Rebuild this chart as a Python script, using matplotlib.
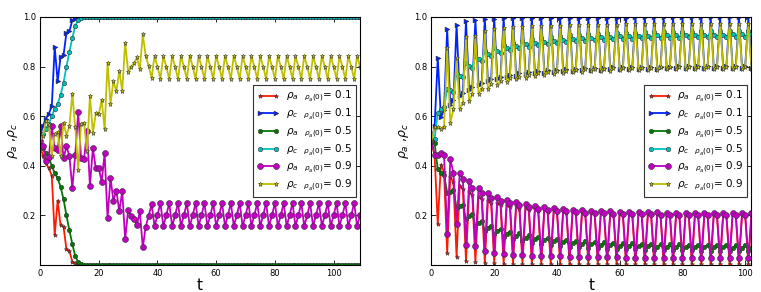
import matplotlib
matplotlib.use('Agg')
import matplotlib.pyplot as plt

# ---- left panel, t = 0..109 ----
t_left = list(range(110))

rho_a_01_l = [0.48, 0.44, 0.41, 0.39, 0.36, 0.12, 0.26, 0.16, 0.155, 0.063,
              0.058, 0.013, 0.007, 0.002] + [0.0] * 96
rho_c_01_l = [0.52, 0.56, 0.59, 0.61, 0.64, 0.88, 0.74, 0.84, 0.845, 0.937,
              0.942, 0.987, 0.993, 0.998] + [1.0] * 96
rho_a_05_l = [0.5, 0.47, 0.45, 0.43, 0.40, 0.37, 0.35, 0.315, 0.265, 0.2,
              0.14, 0.085, 0.035, 0.012, 0.003] + [0.0] * 95
rho_c_05_l = [0.5, 0.53, 0.55, 0.57, 0.60, 0.63, 0.65, 0.685, 0.735, 0.80,
              0.86, 0.915, 0.965, 0.988, 0.997] + [1.0] * 95
rho_a_09_l = [0.50, 0.48, 0.42, 0.435, 0.56, 0.47, 0.465, 0.56, 0.43, 0.478,
              0.44, 0.31, 0.445, 0.615, 0.43, 0.427, 0.54, 0.32, 0.47, 0.39,
              0.39, 0.336, 0.45, 0.188, 0.35, 0.26, 0.30, 0.216, 0.297, 0.104,
              0.22, 0.196, 0.187, 0.16, 0.216, 0.071, 0.155, 0.198, 0.245,
              0.157, 0.2, 0.25, 0.157, 0.2, 0.25, 0.157, 0.2, 0.25,
              0.157, 0.2, 0.25, 0.157, 0.2, 0.25, 0.157, 0.2, 0.25,
              0.157, 0.2, 0.25, 0.157, 0.2, 0.25, 0.157, 0.2, 0.25,
              0.157, 0.2, 0.25, 0.157, 0.2, 0.25, 0.157, 0.2, 0.25,
              0.157, 0.2, 0.25, 0.157, 0.2, 0.25, 0.157, 0.2, 0.25,
              0.157, 0.2, 0.25, 0.157, 0.2, 0.25, 0.157, 0.2, 0.25,
              0.157, 0.2, 0.25, 0.157, 0.2, 0.25, 0.157, 0.2, 0.25,
              0.157, 0.2, 0.25, 0.157, 0.2, 0.25, 0.157, 0.2]
rho_c_09_l = [0.50, 0.52, 0.58, 0.565, 0.44, 0.53, 0.535, 0.44, 0.574, 0.522,
              0.56, 0.69, 0.555, 0.385, 0.57, 0.573, 0.46, 0.683, 0.533, 0.611,
              0.607, 0.665, 0.547, 0.816, 0.65, 0.742, 0.70, 0.782, 0.703, 0.897,
              0.78, 0.80, 0.813, 0.837, 0.789, 0.93, 0.843, 0.802, 0.755,
              0.843, 0.8, 0.75, 0.843, 0.8, 0.75, 0.843, 0.8, 0.75,
              0.843, 0.8, 0.75, 0.843, 0.8, 0.75, 0.843, 0.8, 0.75,
              0.843, 0.8, 0.75, 0.843, 0.8, 0.75, 0.843, 0.8, 0.75,
              0.843, 0.8, 0.75, 0.843, 0.8, 0.75, 0.843, 0.8, 0.75,
              0.843, 0.8, 0.75, 0.843, 0.8, 0.75, 0.843, 0.8, 0.75,
              0.843, 0.8, 0.75, 0.843, 0.8, 0.75, 0.843, 0.8, 0.75,
              0.843, 0.8, 0.75, 0.843, 0.8, 0.75, 0.843, 0.8, 0.75,
              0.843, 0.8, 0.75, 0.843, 0.8, 0.75, 0.843, 0.8]

# ---- right panel, t = 0..102 ----
t_right = list(range(103))

rho_a_01_r = [0.5, 0.44, 0.164,
              0.405, 0.375, 0.048, 0.355, 0.335, 0.032, 0.32, 0.305, 0.017,
              0.295, 0.282, 0.012, 0.275, 0.265, 0.009, 0.26, 0.25, 0.007,
              0.25, 0.24, 0.006, 0.242, 0.232, 0.005, 0.236, 0.226, 0.005,
              0.231, 0.221, 0.004, 0.227, 0.218, 0.004, 0.224, 0.215, 0.004,
              0.221, 0.212, 0.003, 0.219, 0.21, 0.003, 0.217, 0.208, 0.003,
              0.215, 0.206, 0.003, 0.213, 0.205, 0.003, 0.212, 0.204, 0.003,
              0.211, 0.203, 0.003, 0.21, 0.202, 0.003, 0.209, 0.201, 0.002,
              0.209, 0.201, 0.002, 0.208, 0.2, 0.002, 0.208, 0.2, 0.002,
              0.207, 0.2, 0.002, 0.207, 0.199, 0.002, 0.207, 0.199, 0.002,
              0.206, 0.199, 0.002, 0.206, 0.199, 0.002, 0.206, 0.198, 0.002,
              0.206, 0.198, 0.002, 0.205, 0.198, 0.002, 0.205, 0.198, 0.002,
              0.205]
rho_c_01_r = [0.5, 0.56, 0.836,
              0.595, 0.625, 0.952, 0.645, 0.665, 0.968, 0.68, 0.695, 0.983,
              0.705, 0.718, 0.988, 0.725, 0.735, 0.991, 0.74, 0.75, 0.993,
              0.75, 0.76, 0.994, 0.758, 0.768, 0.995, 0.764, 0.774, 0.995,
              0.769, 0.779, 0.996, 0.773, 0.782, 0.996, 0.776, 0.785, 0.996,
              0.779, 0.788, 0.997, 0.781, 0.79, 0.997, 0.783, 0.792, 0.997,
              0.785, 0.794, 0.997, 0.787, 0.795, 0.997, 0.788, 0.796, 0.997,
              0.789, 0.797, 0.997, 0.79, 0.798, 0.997, 0.791, 0.799, 0.998,
              0.791, 0.799, 0.998, 0.792, 0.8, 0.998, 0.792, 0.8, 0.998,
              0.793, 0.8, 0.998, 0.793, 0.801, 0.998, 0.793, 0.801, 0.998,
              0.794, 0.801, 0.998, 0.794, 0.801, 0.998, 0.794, 0.802, 0.998,
              0.794, 0.802, 0.998, 0.795, 0.802, 0.998, 0.795, 0.802, 0.998,
              0.795]
rho_a_05_r = [0.5, 0.49,
              0.386, 0.372, 0.362, 0.292, 0.296, 0.302, 0.229, 0.238, 0.242,
              0.184, 0.196, 0.204, 0.158, 0.17, 0.178, 0.139, 0.151, 0.159,
              0.124, 0.137, 0.146, 0.112, 0.126, 0.135, 0.103, 0.117, 0.127,
              0.096, 0.11, 0.12, 0.09, 0.104, 0.114, 0.085, 0.099, 0.109,
              0.081, 0.095, 0.105, 0.077, 0.091, 0.101, 0.074, 0.088, 0.098,
              0.072, 0.085, 0.095, 0.07, 0.083, 0.093, 0.068, 0.081, 0.091,
              0.066, 0.079, 0.089, 0.065, 0.078, 0.088, 0.064, 0.077, 0.087,
              0.063, 0.076, 0.086, 0.062, 0.075, 0.085, 0.061, 0.074, 0.084,
              0.06, 0.073, 0.083, 0.06, 0.073, 0.083, 0.059, 0.072, 0.082,
              0.059, 0.072, 0.082, 0.058, 0.071, 0.081, 0.058, 0.071, 0.081,
              0.058, 0.071, 0.081, 0.057, 0.07, 0.08, 0.057, 0.07, 0.08,
              0.057, 0.07]
rho_c_05_r = [0.5, 0.51,
              0.614, 0.628, 0.638, 0.708, 0.704, 0.698, 0.771, 0.762, 0.758,
              0.816, 0.804, 0.796, 0.842, 0.83, 0.822, 0.861, 0.849, 0.841,
              0.876, 0.863, 0.854, 0.888, 0.874, 0.865, 0.897, 0.883, 0.873,
              0.904, 0.89, 0.88, 0.91, 0.896, 0.886, 0.915, 0.901, 0.891,
              0.919, 0.905, 0.895, 0.923, 0.909, 0.899, 0.926, 0.912, 0.902,
              0.928, 0.915, 0.905, 0.93, 0.917, 0.907, 0.932, 0.919, 0.909,
              0.934, 0.921, 0.911, 0.935, 0.922, 0.912, 0.936, 0.923, 0.913,
              0.937, 0.924, 0.914, 0.938, 0.925, 0.915, 0.939, 0.926, 0.916,
              0.94, 0.927, 0.917, 0.94, 0.927, 0.917, 0.941, 0.928, 0.918,
              0.941, 0.928, 0.918, 0.942, 0.929, 0.919, 0.942, 0.929, 0.919,
              0.942, 0.929, 0.919, 0.943, 0.93, 0.92, 0.943, 0.93, 0.92,
              0.943, 0.93]
rho_a_09_r = [0.5, 0.445, 0.445,
              0.45, 0.445, 0.125, 0.426, 0.372, 0.164, 0.372, 0.345, 0.08,
              0.34, 0.31, 0.077, 0.31, 0.289, 0.058, 0.289, 0.269, 0.05,
              0.275, 0.258, 0.045, 0.262, 0.248, 0.042, 0.252, 0.24, 0.04,
              0.245, 0.233, 0.038, 0.238, 0.227, 0.037, 0.233, 0.222, 0.036,
              0.229, 0.219, 0.035, 0.226, 0.216, 0.034, 0.223, 0.213, 0.033,
              0.221, 0.211, 0.032, 0.219, 0.209, 0.032, 0.217, 0.208, 0.031,
              0.216, 0.207, 0.031, 0.215, 0.206, 0.03, 0.214, 0.205, 0.03,
              0.213, 0.204, 0.03, 0.212, 0.204, 0.03, 0.212, 0.203, 0.03,
              0.211, 0.203, 0.03, 0.211, 0.202, 0.03, 0.21, 0.202, 0.03,
              0.21, 0.202, 0.03, 0.21, 0.201, 0.03, 0.209, 0.201, 0.029,
              0.209, 0.201, 0.029, 0.209, 0.2, 0.029, 0.208, 0.2, 0.029,
              0.208]
rho_c_09_r = [0.5, 0.555, 0.555,
              0.55, 0.555, 0.875, 0.574, 0.628, 0.836, 0.628, 0.655, 0.92,
              0.66, 0.69, 0.923, 0.69, 0.711, 0.942, 0.711, 0.731, 0.95,
              0.725, 0.742, 0.955, 0.738, 0.752, 0.958, 0.748, 0.76, 0.96,
              0.755, 0.767, 0.962, 0.762, 0.773, 0.963, 0.767, 0.778, 0.964,
              0.771, 0.781, 0.965, 0.774, 0.784, 0.966, 0.777, 0.787, 0.967,
              0.779, 0.789, 0.968, 0.781, 0.791, 0.968, 0.783, 0.792, 0.969,
              0.784, 0.793, 0.969, 0.785, 0.794, 0.97, 0.786, 0.795, 0.97,
              0.787, 0.796, 0.97, 0.788, 0.796, 0.97, 0.788, 0.797, 0.97,
              0.789, 0.797, 0.97, 0.789, 0.798, 0.97, 0.79, 0.798, 0.97,
              0.79, 0.798, 0.97, 0.79, 0.799, 0.97, 0.791, 0.799, 0.971,
              0.791, 0.799, 0.971, 0.791, 0.8, 0.971, 0.792, 0.8, 0.971,
              0.792]

labels = [r'$\rho_a\ \ {}_{\rho_a(0)}$= 0.1', r'$\rho_c\ \ {}_{\rho_a(0)}$= 0.1',
          r'$\rho_a\ \ {}_{\rho_a(0)}$= 0.5', r'$\rho_c\ \ {}_{\rho_a(0)}$= 0.5',
          r'$\rho_a\ \ {}_{\rho_a(0)}$= 0.9', r'$\rho_c\ \ {}_{\rho_a(0)}$= 0.9']
colors = ['#ff1a00', '#0022ff', '#007a00', '#00bfbf', '#bf00bf', '#bfbf00']
markers = ['*', '>', 'o', 'o', 'o', '*']
msizes = [3.2, 3.5, 3.2, 3.2, 4.3, 3.6]


def draw_panel(ax, t, series, xmax):
    for i, y in enumerate(series):
        ax.plot(t, y, color=colors[i], marker=markers[i], ms=msizes[i],
                mec='#333333', mew=0.4, lw=1.3, label=labels[i])
    ax.set_xlim(0, xmax)
    ax.set_ylim(0, 1)
    ax.set_xticks([0, 20, 40, 60, 80, 100])
    ax.set_yticks([0.2, 0.4, 0.6, 0.8, 1.0])
    ax.tick_params(direction='in', top=True, right=True, length=3.5,
                   width=0.6, labelsize=6, pad=3)
    for s in ax.spines.values():
        s.set_linewidth(0.8)
    ax.set_xlabel('t', fontsize=11, labelpad=0)
    ax.set_ylabel(r'$\rho_a$ ,$\rho_c$', fontsize=9, labelpad=2)
    leg = ax.legend(loc='center right', numpoints=2, fontsize=7.5,
                    fancybox=False, framealpha=1, edgecolor='#333333',
                    handlelength=2.2, labelspacing=0.22, borderpad=0.35,
                    handletextpad=0.6, borderaxespad=0.4)
    leg.get_frame().set_linewidth(0.8)


fig = plt.figure(figsize=(7.61, 2.92), dpi=100)
ax1 = fig.add_axes([0.0526, 0.0925, 0.4205, 0.8493])
ax2 = fig.add_axes([0.567, 0.0925, 0.4205, 0.8493])

draw_panel(ax1, t_left, [rho_a_01_l, rho_c_01_l, rho_a_05_l, rho_c_05_l,
                         rho_a_09_l, rho_c_09_l], 109)
draw_panel(ax2, t_right, [rho_a_01_r, rho_c_01_r, rho_a_05_r, rho_c_05_r,
                          rho_a_09_r, rho_c_09_r], 102)

fig.savefig('out.png', dpi=100)
